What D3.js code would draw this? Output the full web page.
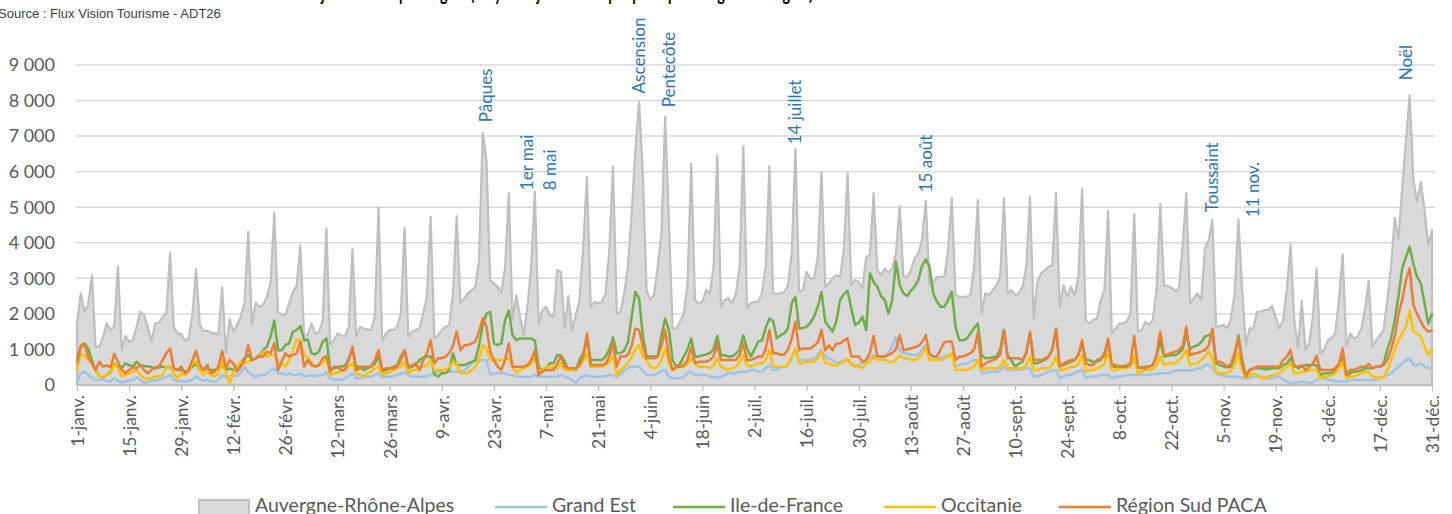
<!DOCTYPE html>
<html>
<head>
<meta charset="utf-8">
<script src="https://cdn.jsdelivr.net/npm/d3@7"></script>
<style>
  body { margin: 0; background: #fff; overflow: hidden; }
  svg { display: block; }
</style>
</head>
<body>
<div id="chart"></div>
<script>
// daily values, 1 Jan -> 31 Dec 2019
var ara = [
  1730,2580,2060,2250,3090,1080,1080, 1360,1730,1550,1640,3330,980,1380,
  1220,1260,1640,2060,1970,1640,1220, 1730,1750,1920,2010,3720,1640,1450,
  1430,1250,1310,2000,3250,1690,1520, 1520,1470,1450,1430,2740,900,1850,
  1500,1690,1920,2300,4310,1690,2310, 2200,2250,2480,2860,4840,2060,1970,
  1970,2300,2620,2780,3930,1360,1430, 1730,1450,1470,1830,4400,1120,1260,
  1450,1400,1360,1640,3820,1360,1640, 1590,1550,1550,1920,4990,1220,1450,
  1550,1545,1640,2010,4420,1360,1500, 1545,1590,2010,2480,4730,1310,1400,
  1545,1640,1690,2580,4750,2300,2440, 2580,2670,2760,3510,7100,6320,2950,
  2860,2760,2580,3300,5400,1830,2530, 1920,1400,2200,3330,5430,1730,2110,
  2200,1970,1920,3230,3180,1590,2500, 1545,1970,2390,3890,5850,2200,2340,
  2300,2340,2580,3790,6160,2010,2060, 2580,3330,4820,6600,7960,5950,2670,
  2390,2530,3330,4260,7540,4640,1590, 1590,1780,2010,2860,6230,2390,2300,
  2340,2670,2580,3330,6460,2200,2390, 2440,2300,2580,3330,6720,2150,2300,
  2340,2340,2580,3330,6160,2580,2560, 2580,2620,2810,3700,6630,2620,2670,
  3180,3000,3000,3600,5990,2760,2860, 3000,3090,3040,3790,5950,2810,2950,
  2900,2720,3600,3650,5400,3230,3090, 3280,3160,3280,3700,5040,3060,3030,
  3230,3560,3700,4070,5180,2810,2860, 3040,3040,3040,3790,5250,2530,2480,
  2480,2480,2530,3330,5200,2010,2580, 2530,2670,2810,3040,5250,2580,2670,
  2530,2580,2760,3330,5290,1870,2900, 3140,3230,3330,3370,5400,2200,2810,
  2480,2760,2530,3040,5520,1830,1730, 1830,1870,2390,2670,4900,1450,1590,
  1730,1730,1780,2010,4800,1500,1545, 1780,1690,1830,2670,5090,2810,2780,
  2740,2650,2690,3890,5400,2300,2440, 2580,2390,3840,4070,4640,1640,1660,
  1690,1590,1870,2580,4660,2670,1120, 1590,1590,2060,2060,2110,2110,2220,
  1920,1590,1830,2670,3950,1830,1030, 2370,980,1170,1920,3280,890,980,
  1260,1310,1450,2390,3680,1080,1450, 1310,1360,1590,2110,2930,1080,1260,
  1400,1545,2390,3330,4700,4090,5570, 6880,8150,5760,5150,5710,4920,3930,
  4360
];

var grandEst = [
  50,330,375,280,190,140,140, 160,120,95,190,120,65,90,
  140,140,215,140,65,80,120, 120,160,190,235,280,160,90,
  120,85,120,140,250,160,120, 140,95,100,140,280,215,235,
  280,250,350,500,375,280,235, 280,280,310,420,470,330,330,
  280,330,280,280,330,235,250, 280,235,280,280,350,190,140,
  160,140,190,235,330,190,190, 215,235,235,280,330,215,235,
  235,250,280,330,350,280,235, 235,235,235,250,280,375,375,
  375,375,375,375,375,375,400, 500,600,700,700,700,700,280,
  330,330,330,330,280,280,235, 235,235,235,235,280,235,235,
  235,235,235,235,280,235,190, 140,50,190,235,280,235,235,
  235,235,250,280,280,235,300, 400,470,515,515,515,400,280,
  280,280,330,400,420,235,190, 190,190,235,330,375,280,280,
  280,280,235,235,190,235,280, 330,330,330,375,375,375,420,
  420,375,375,470,560,420,420, 500,515,560,750,980,700,700,
  700,700,750,850,980,800,750, 700,610,650,700,700,610,515,
  560,610,700,750,840,800,800, 800,900,1100,1340,980,900,890,
  850,840,850,1000,1120,800,800, 780,760,800,840,840,515,560,
  600,610,650,700,700,330,330, 375,375,375,420,515,420,420,
  420,420,440,470,470,235,250, 280,330,375,400,420,190,235,
  280,280,330,375,420,190,235, 235,250,280,280,280,190,235,
  235,250,280,280,280,280,280, 280,280,300,300,330,330,330,
  375,400,420,400,420,400,420, 470,470,560,560,470,330,280,
  250,235,235,235,235,190,190, 190,235,235,235,190,190,190,
  235,235,150,100,50,50,80, 95,80,50,70,140,190,190,
  140,140,95,95,95,95,140, 140,140,140,140,140,140,140,
  190,235,280,330,420,515,610, 700,750,560,560,610,515,470,
  470
];

var ileDeFrance = [
  700,1100,1170,1030,700,420,235, 215,280,375,610,500,470,610,
  560,515,655,560,530,530,500, 470,500,520,500,515,470,420,
  420,375,420,515,590,420,420, 470,420,420,470,560,420,470,
  420,420,610,750,840,700,750, 840,980,1080,1360,1810,980,980,
  1120,1170,1500,1545,1660,1260,1280, 890,860,940,1220,1310,470,470,
  500,520,540,750,1000,500,520, 420,470,515,590,800,375,420,
  470,515,560,800,980,470,515, 560,700,770,800,800,300,235,
  330,330,420,890,560,560,560, 600,650,700,1100,1700,2010,2060,
  1170,1120,1170,1830,2090,1400,1260, 1310,1310,1310,1310,1250,515,420,
  470,610,610,840,840,655,420, 480,420,700,900,1260,700,700,
  700,700,800,1000,1340,890,900, 960,1200,1920,2620,2430,1400,800,
  800,800,800,1400,1870,1545,700, 515,600,800,1000,1310,800,800,
  840,860,900,1000,1380,840,840, 800,800,880,1000,1400,1030,800,
  1000,1220,1250,1600,1870,1800,1310, 1400,1450,1600,2300,2480,1590,1600,
  1640,1750,1920,2200,2620,1780,1640, 1500,1800,2390,2550,2650,2150,1690,
  1750,1920,1545,3140,2900,2760,2500, 2390,2010,2390,3470,2810,2580,2500,
  2650,2760,2950,3350,3530,3330,2580, 2340,2200,2200,2390,2620,1640,1260,
  1260,1300,1450,1600,1730,840,750, 760,780,800,1000,1545,840,700,
  515,600,650,900,1450,610,620, 650,750,800,1000,1545,515,560,
  610,650,700,850,1170,700,700, 650,660,700,900,1220,515,515,
  520,520,550,600,700,470,500, 515,520,560,800,1220,800,820,
  840,840,900,1000,1400,1030,1080, 1120,1200,1360,1400,1450,610,560,
  515,500,515,800,1400,700,280, 420,470,470,470,440,440,470,
  470,470,560,600,750,560,470, 520,560,560,560,560,280,330,
  330,330,420,560,750,235,330, 375,375,420,470,470,470,515,
  515,600,1000,1300,1830,2500,3280, 3600,3890,3400,3040,2860,2300,1730,
  2010
];

var occitanie = [
  420,870,840,700,610,420,235, 235,280,330,610,470,250,280,
  330,375,420,280,190,160,190, 235,250,280,515,535,330,190,
  330,280,375,610,675,420,280, 375,280,235,330,700,330,50,
  330,515,655,610,655,700,750, 800,940,800,840,840,655,610,
  515,700,1000,1280,1260,840,800, 610,515,560,610,750,280,330,
  350,375,420,515,610,330,280, 250,330,375,470,515,280,330,
  350,420,470,515,655,330,420, 420,470,515,560,700,420,420,
  420,420,500,650,600,330,330, 330,420,515,700,1120,1030,700,
  700,700,700,720,750,515,330, 420,470,515,600,800,330,420,
  515,515,515,470,610,420,420, 420,470,515,700,890,515,515,
  515,515,560,650,800,280,420, 515,600,800,1000,1120,800,700,
  515,470,515,700,1030,610,420, 470,515,515,600,750,610,515,
  515,515,470,560,750,515,470, 420,470,515,650,840,560,515,
  560,610,610,700,1000,515,515, 515,515,600,800,1030,610,610,
  655,655,655,750,940,610,610, 560,560,600,650,750,560,560,
  515,470,600,650,800,700,700, 700,650,650,700,840,750,750,
  700,700,750,850,1060,700,700, 700,700,750,800,890,420,420,
  420,420,470,515,700,420,450, 470,470,470,515,700,470,470,
  470,470,470,560,800,420,420, 470,470,470,560,800,420,420,
  470,515,515,600,840,375,420, 420,470,515,600,940,420,420,
  470,470,470,515,840,330,375, 420,420,450,560,800,560,600,
  610,610,700,800,980,560,600, 610,700,800,940,750,375,330,
  330,330,400,560,890,420,190, 280,330,280,190,190,235,280,
  280,330,420,515,610,330,330, 375,375,420,420,420,190,235,
  235,280,330,470,655,190,235, 235,280,330,375,375,235,235,
  190,235,420,700,1000,1260,1450, 1640,2080,1500,1450,1360,1080,840,
  1030
];

var sudPaca = [
  610,1060,1150,800,610,420,655, 515,550,500,870,655,420,330,
  420,500,470,560,420,330,420, 500,520,700,890,1030,470,420,
  515,330,420,700,965,560,420, 560,330,375,515,965,470,700,
  610,375,515,700,1120,700,750, 800,800,940,900,1170,420,655,
  890,800,840,890,1220,515,700, 560,515,560,750,815,375,515,
  515,420,420,700,1080,420,470, 515,515,515,700,980,420,470,
  470,470,515,700,980,515,560, 610,420,700,900,1260,610,750,
  750,800,900,1100,1500,980,1120, 1120,1170,1220,1500,1870,1640,940,
  700,515,420,700,1170,515,515, 515,515,560,700,980,280,375,
  420,420,420,600,800,515,470, 470,470,560,800,1450,560,560,
  560,560,600,800,1170,515,800, 800,850,1100,1590,1545,1100,750,
  750,750,800,1100,1545,800,420, 515,515,560,700,1060,610,655,
  655,655,700,800,1150,700,700, 700,700,700,850,1170,700,700,
  750,800,800,1000,1545,890,890, 850,850,1000,1300,1780,980,1030,
  1030,1030,1100,1200,1545,980,1120, 980,1170,1170,1250,1310,800,800,
  800,655,700,900,1380,800,800, 800,850,900,1000,1400,980,1000,
  1030,1060,1100,1200,1400,890,800, 800,1000,1200,1220,1220,700,800,
  800,850,890,1000,1470,515,600, 655,700,750,850,1530,750,750,
  750,750,700,900,1500,700,700, 700,700,800,1000,1590,515,610,
  655,700,700,850,1260,610,560, 560,700,750,800,1310,560,560,
  515,515,515,600,1380,515,470, 470,515,560,840,1500,840,860,
  900,940,980,1100,1640,840,880, 900,940,980,1100,1590,655,655,
  600,515,600,900,1310,600,235, 420,470,515,515,515,515,515,
  515,515,700,800,980,515,515, 560,420,515,600,815,420,420,
  420,420,470,600,1030,280,420, 420,470,515,515,590,470,515,
  515,560,700,1000,1360,2000,2390, 2950,3280,2250,2000,1780,1600,1500,
  1545
];

var seriesNames = ["Auvergne-Rhône-Alpes", "Grand Est", "Ile-de-France", "Occitanie", "Région Sud PACA"];
var yTicks = [0, 1000, 2000, 3000, 4000, 5000, 6000, 7000, 8000, 9000];
var xTickDays = [0, 14, 28, 42, 56, 70, 84, 98, 112, 126, 140, 154, 168, 182,
                 196, 210, 224, 238, 252, 266, 280, 294, 308, 322, 336, 350, 364];
var xTickLabels = ["1-janv.", "15-janv.", "29-janv.", "12-févr.", "26-févr.", "12-mars", "26-mars",
                   "9-avr.", "23-avr.", "7-mai", "21-mai", "4-juin", "18-juin", "2-juil.",
                   "16-juil.", "30-juil.", "13-août", "27-août", "10-sept.", "24-sept.", "8-oct.",
                   "22-oct.", "5-nov.", "19-nov.", "3-déc.", "17-déc.", "31-déc."];
// holiday labels: day index + value level where the (rotated) label starts
var holidayLabels = ["Pâques", "1er mai", "8 mai", "Ascension", "Pentecôte", "14 juillet", "15 août", "Toussaint", "11 nov.", "Noël"];
var holidayDays = [110, 121, 127, 151, 159, 193, 228, 305, 316, 357];
var holidayLevels = [7390, 5480, 5480, 8200, 7810, 6770, 5420, 4860, 4720, 8570];

var width = 1452, height = 514;
var font = "Lato, 'Open Sans', sans-serif";

var svg = d3.select("#chart").append("svg")
  .attr("width", width)
  .attr("height", height);

var start = new Date(2019, 0, 1);
var dates = ara.map(function (v, i) { return d3.timeDay.offset(start, i); });

var x = d3.scaleTime()
  .domain([dates[0], dates[dates.length - 1]])
  .range([77, 1432]);
var y = d3.scaleLinear()
  .domain([0, 9000])
  .range([385, 65]);

var fr = d3.formatLocale({ decimal: ",", thousands: " ", grouping: [3], currency: ["", " €"] });
var fmt = fr.format(",");

// title (only its bottom shows in the picture) and source
svg.append("text")
  .attr("x", 268).attr("y", 0)
  .attr("textLength", 545).attr("lengthAdjust", "spacingAndGlyphs")
  .style("font-family", font).style("font-weight", "bold").style("font-size", "21px")
  .attr("fill", "#000")
  .text("Nuitées journalières par origine (moyenne journalière par principales régions d'origine)");

svg.append("text")
  .attr("x", -2).attr("y", 18)
  .style("font-family", "'Liberation Sans Narrow', 'Arial Narrow', sans-serif")
  .style("font-size", "13px")
  .attr("fill", "#404040")
  .text("Source : Flux Vision Tourisme - ADT26");

// gridlines
svg.append("g").selectAll("line")
  .data(yTicks.filter(function (d) { return d > 0; }))
  .enter().append("line")
  .attr("x1", 76).attr("x2", 1435)
  .attr("y1", function (d) { return y(d); })
  .attr("y2", function (d) { return y(d); })
  .attr("stroke", "#d9d9d9")
  .attr("stroke-width", 1.5);

// y labels
svg.append("g").selectAll("text")
  .data(yTicks)
  .enter().append("text")
  .attr("x", 55)
  .attr("y", function (d) { return y(d); })
  .attr("dy", "0.35em")
  .attr("text-anchor", "end")
  .style("font-family", font).style("font-size", "18px")
  .attr("fill", "#595959")
  .text(function (d) { return fmt(d); });

// area
var area = d3.area()
  .x(function (d, i) { return x(dates[i]); })
  .y0(y(0))
  .y1(function (d) { return y(d); });

svg.append("path")
  .datum(ara)
  .attr("d", area)
  .attr("fill", "#d9d9d9")
  .attr("stroke", "#bfbfbf")
  .attr("stroke-width", 2.2)
  .attr("stroke-linejoin", "round");

// x axis
var xAxis = d3.axisBottom(x)
  .tickValues(xTickDays.map(function (d) { return dates[d]; }))
  .tickFormat(function (d, i) { return xTickLabels[i]; })
  .tickSizeInner(6)
  .tickSizeOuter(0);

var gx = svg.append("g")
  .attr("transform", "translate(0," + y(0) + ")")
  .call(xAxis);
gx.select(".domain").attr("stroke", "#bfbfbf").attr("stroke-width", 1.5);
gx.selectAll(".tick line").attr("stroke", "#bfbfbf").attr("stroke-width", 1.3);
gx.selectAll(".tick text")
  .attr("transform", "rotate(-90)")
  .attr("x", -10).attr("y", 0).attr("dy", "0.36em")
  .attr("text-anchor", "end")
  .style("font-family", font).style("font-size", "17.5px")
  .attr("fill", "#595959");

// lines
var lineSeries = [
  { values: grandEst, color: "#9dc3e6" },
  { values: ileDeFrance, color: "#70ad47" },
  { values: occitanie, color: "#ffc000" },
  { values: sudPaca, color: "#ed7d31" }
];

var line = d3.line()
  .x(function (d, i) { return x(dates[i]); })
  .y(function (d) { return y(d); });

svg.append("g").selectAll("path")
  .data(lineSeries)
  .enter().append("path")
  .attr("d", function (s) { return line(s.values); })
  .attr("fill", "none")
  .attr("stroke", function (s) { return s.color; })
  .attr("stroke-width", 2.5)
  .attr("stroke-linejoin", "round");

// holiday labels
svg.append("g").selectAll("text")
  .data(holidayLabels)
  .enter().append("text")
  .attr("transform", function (d, i) {
    return "translate(" + x(dates[holidayDays[i]]) + "," + y(holidayLevels[i]) + ") rotate(-90)";
  })
  .attr("dy", "0.35em")
  .style("font-family", font).style("font-size", "17px")
  .attr("fill", "#2e75b6")
  .text(function (d) { return d; });

// legend (bottom edge cuts it, as in the original)
var legendX = [199, 495, 673, 884, 1059];
var legendColors = ["#d9d9d9", "#9dc3e6", "#70ad47", "#ffc000", "#ed7d31"];
var legend = svg.append("g");
seriesNames.forEach(function (name, i) {
  var g = legend.append("g").attr("transform", "translate(" + legendX[i] + ",507)");
  if (i === 0) {
    g.append("rect").attr("x", 0).attr("y", -7).attr("width", 50).attr("height", 15)
      .attr("fill", "#d9d9d9").attr("stroke", "#bfbfbf").attr("stroke-width", 2);
  } else {
    g.append("line").attr("x1", 0).attr("x2", 52).attr("y1", 0).attr("y2", 0)
      .attr("stroke", legendColors[i]).attr("stroke-width", 2.5);
  }
  g.append("text")
    .attr("x", i === 0 ? 56 : 57)
    .attr("y", 5)
    .style("font-family", font).style("font-size", "19.5px")
    .attr("fill", "#595959")
    .text(name);
});
</script>
</body>
</html>
